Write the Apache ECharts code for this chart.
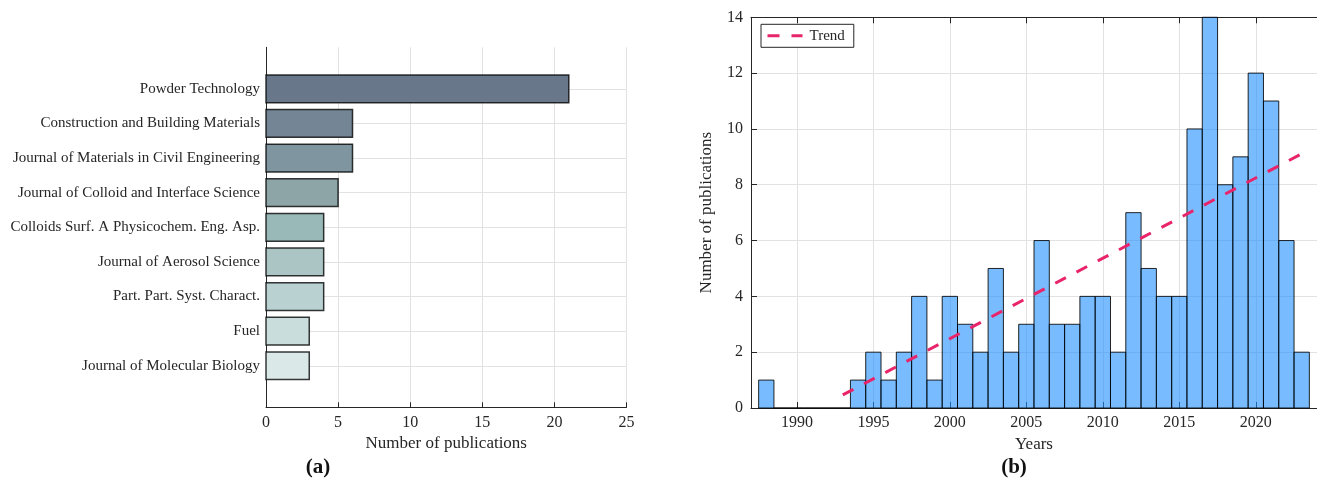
<!DOCTYPE html>
<html>
<head>
<meta charset="utf-8">
<title>Publications by journal and by year</title>
<script src="https://cdn.jsdelivr.net/npm/echarts@6/dist/echarts.min.js"></script>
<style>
  html, body { margin: 0; padding: 0; background: #ffffff; }
  #chart { width: 1317px; height: 482px; }
</style>
</head>
<body>
<div id="chart"></div>
<script>
// ---- (a) publications per journal ----
const journals = [
  'Powder Technology',
  'Construction and Building Materials',
  'Journal of Materials in Civil Engineering',
  'Journal of Colloid and Interface Science',
  'Colloids Surf. A Physicochem. Eng. Asp.',
  'Journal of Aerosol Science',
  'Part. Part. Syst. Charact.',
  'Fuel',
  'Journal of Molecular Biology'
];
const journalCounts = [21, 6, 6, 5, 4, 4, 4, 3, 3];
const journalColors = ['#687789', '#748696', '#7f959f', '#8ea5a8', '#99b8b8',
                       '#abc5c5', '#b9d1d1', '#c9dddc', '#dbe8e8'];

// ---- (b) publications per year ----
const years = [1988, 1989, 1990, 1991, 1992, 1993, 1994, 1995, 1996, 1997, 1998, 1999,
               2000, 2001, 2002, 2003, 2004, 2005, 2006, 2007, 2008, 2009, 2010, 2011,
               2012, 2013, 2014, 2015, 2016, 2017, 2018, 2019, 2020, 2021, 2022, 2023];
const yearCounts = [1, 0, 0, 0, 0, 0, 1, 2, 1, 2, 4, 1,
                    4, 3, 2, 5, 2, 3, 6, 3, 3, 4, 4, 2,
                    7, 5, 4, 4, 10, 14, 8, 9, 12, 11, 6, 2];
const yearTicks = [1990, 1995, 2000, 2005, 2010, 2015, 2020];
const trendYears = [1993, 2023];
const trendValues = [0.47, 9.11];

const FONT = "'Liberation Serif', 'DejaVu Serif', serif";
const INK = '#262626';
const GRID = '#e2e2e2';
const TREND = '#e8246a';

const journalIndex = journals.map((_, i) => i);
const journalData = journalCounts.map((v, i) => [i, v]);
const yearData = years.map((y, i) => [y, yearCounts[i]]);
const trendData = trendYears.map((y, i) => [y, trendValues[i]]);

// horizontal bars: 0.8 of the category slot, drawn on value axes
function renderJournalBar(params, api) {
  const idx = api.value(0);
  const v = api.value(1);
  const a = api.coord([0, idx - 0.4]);
  const b = api.coord([v, idx + 0.4]);
  return {
    type: 'rect',
    shape: { x: a[0], y: Math.min(a[1], b[1]), width: b[0] - a[0], height: Math.abs(b[1] - a[1]) },
    style: { fill: journalColors[idx], stroke: 'rgba(0,0,0,0.78)', lineWidth: 1.5 }
  };
}

// histogram bins of one year centred on each year
function renderYearBin(params, api) {
  const y = api.value(0);
  const v = api.value(1);
  const a = api.coord([y - 0.5, v]);
  const b = api.coord([y + 0.5, 0]);
  return {
    type: 'rect',
    shape: { x: a[0], y: a[1], width: b[0] - a[0], height: b[1] - a[1] },
    style: { fill: 'rgba(30,144,255,0.6)', stroke: 'rgba(0,0,0,0.85)', lineWidth: 1 }
  };
}

const chart = echarts.init(document.getElementById('chart'), null, { renderer: 'canvas' });

chart.setOption({
  animation: false,
  backgroundColor: '#ffffff',
  textStyle: { fontFamily: FONT, color: INK },
  grid: [
    { left: 266, right: 690.5, top: 47.3, bottom: 74.7 },
    { left: 751, right: -6.4, top: 17.3, bottom: 74 }
  ],
  xAxis: [
    {
      gridIndex: 0, type: 'value', min: 0, max: 25, interval: 5,
      name: 'Number of publications', nameLocation: 'middle', nameGap: 24,
      nameTextStyle: { fontFamily: FONT, fontSize: 17, color: INK },
      axisLine: { show: true, onZero: false, lineStyle: { color: INK, width: 1 } },
      axisTick: { show: true, inside: true, length: 5, lineStyle: { color: INK } },
      axisLabel: { fontFamily: FONT, fontSize: 16, color: INK, margin: 7 },
      splitLine: { show: true, lineStyle: { color: GRID, width: 1 } }
    },
    {
      gridIndex: 1, type: 'value', min: 1987, max: 2024, position: 'bottom',
      name: 'Years', nameLocation: 'middle', nameGap: 27,
      nameTextStyle: { fontFamily: FONT, fontSize: 17, color: INK },
      axisLine: { show: true, onZero: false, lineStyle: { color: INK, width: 1 } },
      axisTick: { show: true, inside: true, length: 6, customValues: yearTicks, lineStyle: { color: INK } },
      axisLabel: {
        fontFamily: FONT, fontSize: 16, color: INK, margin: 7,
        customValues: yearTicks, formatter: v => String(Math.round(v))
      },
      splitLine: { show: true, lineStyle: { color: GRID, width: 1 } }
    },
    {
      gridIndex: 1, type: 'value', min: 1987, max: 2024, position: 'top',
      axisLine: { show: true, onZero: false, lineStyle: { color: INK, width: 1 } },
      axisTick: { show: true, inside: true, length: 6, customValues: yearTicks, lineStyle: { color: INK } },
      axisLabel: { show: false },
      splitLine: { show: false }
    }
  ],
  yAxis: [
    {
      gridIndex: 0, type: 'value', inverse: true, min: -1.2, max: 9.2,
      axisLine: { show: true, onZero: false, lineStyle: { color: INK, width: 1 } },
      axisTick: { show: false, customValues: journalIndex },
      axisLabel: {
        fontFamily: FONT, fontSize: 15, color: INK, margin: 6,
        customValues: journalIndex,
        formatter: v => journals[Math.round(v)] || ''
      },
      splitLine: { show: true, lineStyle: { color: GRID, width: 1 } }
    },
    {
      gridIndex: 1, type: 'value', min: 0, max: 14, interval: 2,
      name: 'Number of publications', nameLocation: 'middle', nameGap: 36,
      nameTextStyle: { fontFamily: FONT, fontSize: 17, color: INK },
      axisLine: { show: true, onZero: false, lineStyle: { color: INK, width: 1 } },
      axisTick: { show: true, inside: true, length: 6, lineStyle: { color: INK } },
      axisLabel: { fontFamily: FONT, fontSize: 16, color: INK, margin: 8 },
      splitLine: { show: true, lineStyle: { color: GRID, width: 1 } }
    }
  ],
  legend: {
    data: ['Trend'],
    left: 761, top: 24.3,
    padding: [4, 9, 4, 5],
    itemWidth: 35, itemHeight: 14,
    borderColor: INK, borderWidth: 1, borderRadius: 0,
    backgroundColor: '#ffffff',
    itemStyle: { opacity: 0 },
    lineStyle: { width: 3, color: TREND, type: [12, 12] },
    textStyle: { fontFamily: FONT, fontSize: 15, color: INK, padding: [0, 0, 0, 2] }
  },
  series: [
    {
      name: 'Journals', type: 'custom', xAxisIndex: 0, yAxisIndex: 0,
      renderItem: renderJournalBar, data: journalData,
      encode: { x: 1, y: 0 }
    },
    {
      name: 'Publications', type: 'custom', xAxisIndex: 1, yAxisIndex: 1,
      renderItem: renderYearBin, data: yearData,
      encode: { x: 0, y: 1 }
    },
    {
      name: 'Trend', type: 'line', xAxisIndex: 1, yAxisIndex: 1,
      data: trendData, symbol: 'none', z: 5,
      lineStyle: { color: TREND, width: 3, type: [12, 12] },
      itemStyle: { color: TREND }
    }
  ],
  graphic: [
    { type: 'text', x: 318, y: 468, style: { text: '(a)', font: "bold 21px " + FONT, fill: '#111', align: 'center', verticalAlign: 'middle' } },
    { type: 'text', x: 1014, y: 468, style: { text: '(b)', font: "bold 21px " + FONT, fill: '#111', align: 'center', verticalAlign: 'middle' } }
  ]
});
</script>
</body>
</html>
